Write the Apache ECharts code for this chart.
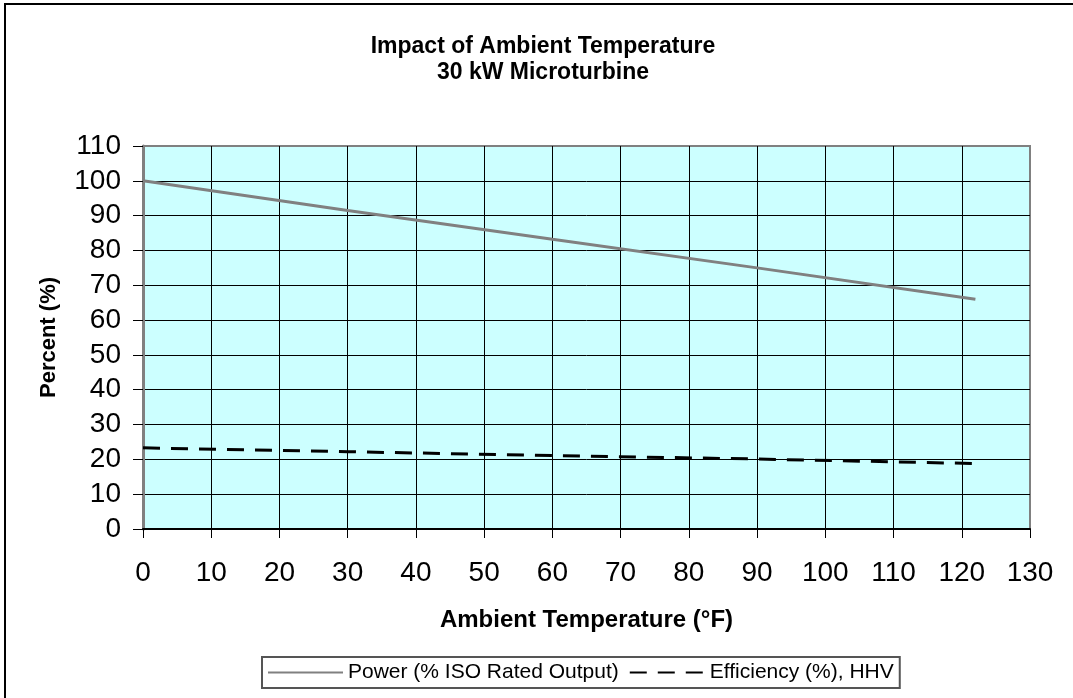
<!DOCTYPE html>
<html>
<head>
<meta charset="utf-8">
<style>
  html, body { margin: 0; padding: 0; background: #fff; }
  #chart { width: 1073px; height: 698px; }
</style>
<script src="https://cdn.jsdelivr.net/npm/echarts@6/dist/echarts.min.js"></script>
</head>
<body>
<div id="chart"></div>
<script>
// temperatures (°F)
const temps = [0, 30, 60, 90, 122]
// % of ISO rated output
const power = [100, 91.5, 83.2, 75.0, 66.0]
// efficiency (%), HHV
const efficiency = [23.3, 22.2, 21.1, 20.1, 18.8]

const xTicks = { min: 0, max: 130, interval: 10 }
const yTicks = { min: 0, max: 110, interval: 10 }

const FONT = '"Liberation Sans", Arial, sans-serif'

const chart = echarts.init(document.getElementById('chart'), null, { renderer: 'canvas' })

const option = {
  backgroundColor: '#fff',
  animation: false,
  title: {
    text: 'Impact of Ambient Temperature\n30 kW Microturbine',
    left: 538,
    top: 29,
    textAlign: 'center',
    textStyle: {
      fontFamily: FONT,
      fontSize: 23,
      fontWeight: 'bold',
      color: '#000',
      lineHeight: 26
    }
  },
  graphic: [{
    type: 'rect',
    shape: { x: 5, y: 4, width: 1200, height: 900 },
    style: { fill: 'none', stroke: '#000', lineWidth: 2 },
    silent: true
  }],
  legend: {
    left: 262,
    top: 657,
    padding: [5, 6, 5, 5],
    itemWidth: 75,
    itemHeight: 14,
    itemGap: 10,
    borderColor: '#555',
    borderWidth: 2,
    textStyle: { fontFamily: FONT, fontSize: 21, color: '#000' },
    data: [
      { name: 'Power (% ISO Rated Output)', itemStyle: { opacity: 0 } },
      { name: 'Efficiency (%), HHV', itemStyle: { opacity: 0 } }
    ]
  },
  grid: {
    left: 143,
    right: 43,
    top: 146,
    bottom: 169,
    show: true,
    backgroundColor: '#CCFFFF',
    borderColor: '#808080',
    borderWidth: 2
  },
  xAxis: {
    type: 'value',
    ...xTicks,
    name: 'Ambient Temperature (°F)',
    nameLocation: 'middle',
    nameGap: 79,
    nameTextStyle: { fontFamily: FONT, fontSize: 24, fontWeight: 'bold', color: '#000' },
    axisLine: { show: true, lineStyle: { color: '#000', width: 2 } },
    axisTick: { show: true, length: 9, lineStyle: { color: '#000', width: 1 } },
    axisLabel: { fontFamily: FONT, fontSize: 28, color: '#000', margin: 30 },
    splitLine: { show: true, showMinLine: false, showMaxLine: false, lineStyle: { color: '#000', width: 1 } }
  },
  yAxis: {
    type: 'value',
    ...yTicks,
    name: 'Percent (%)',
    nameLocation: 'middle',
    nameGap: 83,
    nameTextStyle: { fontFamily: FONT, fontSize: 22, fontWeight: 'bold', color: '#000' },
    axisLine: { show: true, lineStyle: { color: '#808080', width: 3 } },
    axisTick: { show: true, length: 10, lineStyle: { color: '#000', width: 1 } },
    axisLabel: { fontFamily: FONT, fontSize: 28, color: '#000', margin: 22 },
    splitLine: { show: true, showMinLine: false, showMaxLine: false, lineStyle: { color: '#000', width: 1 } }
  },
  series: [
    {
      name: 'Power (% ISO Rated Output)',
      type: 'line',
      data: temps.map((t, i) => [t, power[i]]),
      symbol: 'none',
      lineStyle: { color: '#808080', width: 3 },
      itemStyle: { color: '#808080' }
    },
    {
      name: 'Efficiency (%), HHV',
      type: 'line',
      data: temps.map((t, i) => [t, efficiency[i]]),
      symbol: 'none',
      lineStyle: { color: '#000', width: 3, type: [17, 11] },
      itemStyle: { color: '#000' }
    }
  ]
}

chart.setOption(option)
</script>
</body>
</html>
